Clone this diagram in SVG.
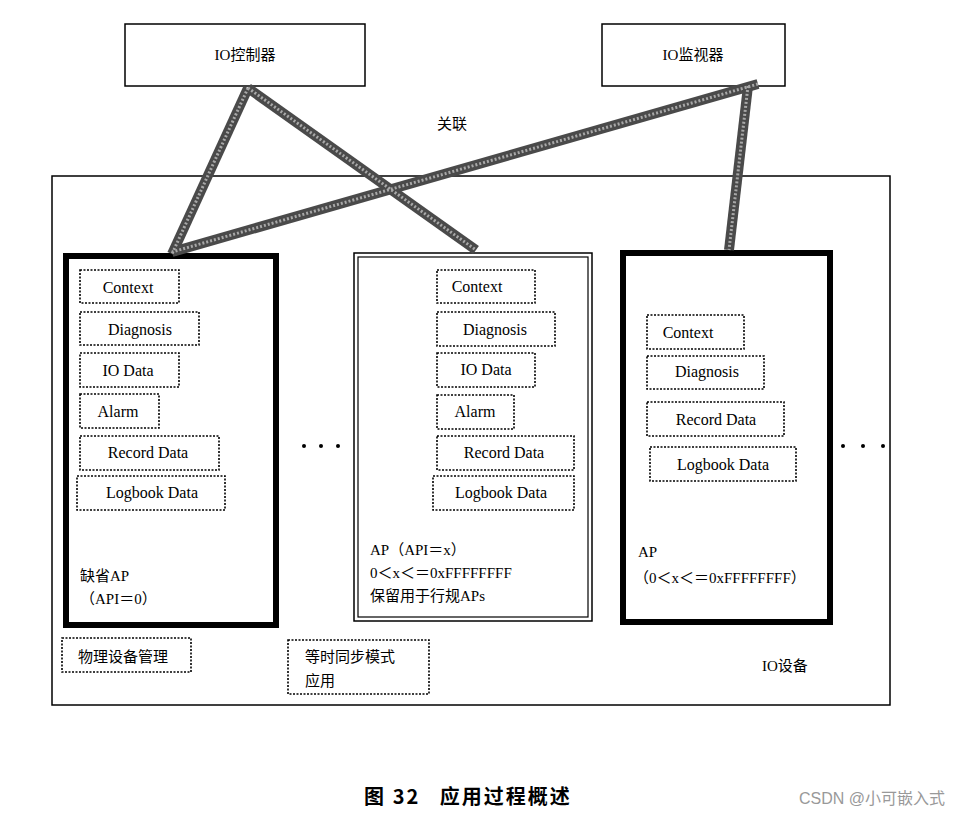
<svg xmlns="http://www.w3.org/2000/svg" width="960" height="817" viewBox="0 0 960 817">
<style>
.en{font-family:"Liberation Serif","Noto Sans CJK SC",serif;font-size:16px;fill:#000}
.cn{font-family:"Liberation Serif","Noto Sans CJK SC",sans-serif;font-size:15px;fill:#000}
.item{fill:#fff;stroke:#000;stroke-width:1.6;stroke-dasharray:2 1.5}
.box{fill:#fff;stroke:#000;stroke-width:1.5}
.thick{fill:#fff;stroke:#000;stroke-width:6}
.link{stroke:#4a4a4a;stroke-width:10;fill:none}
.linkin{stroke:#a8a8a8;stroke-width:3;stroke-dasharray:2 2;fill:none}
</style>
<rect width="960" height="817" fill="#fff"/>
<g id="io-device">
<rect x="52" y="176" width="838" height="529" class="box"/>
<text x="762" y="671" class="cn">IO设备</text>
</g>
<g id="io-controller">
<rect x="125" y="24" width="240" height="62" class="box"/>
<text x="245" y="60" class="cn" text-anchor="middle">IO控制器</text>
</g>
<g id="io-supervisor">
<rect x="602" y="24" width="183" height="62" class="box"/>
<text x="693" y="60" class="cn" text-anchor="middle">IO监视器</text>
</g>
<g id="ap-default">
<rect x="66" y="256" width="210" height="369" class="thick"/>
<rect x="80" y="270" width="99" height="33" class="item"/><text x="128" y="293" class="en" text-anchor="middle">Context</text>
<rect x="80" y="312" width="119" height="33" class="item"/><text x="140" y="335" class="en" text-anchor="middle">Diagnosis</text>
<rect x="80" y="353" width="99" height="34" class="item"/><text x="128" y="376" class="en" text-anchor="middle">IO Data</text>
<rect x="80" y="394" width="79" height="34" class="item"/><text x="118" y="417" class="en" text-anchor="middle">Alarm</text>
<rect x="80" y="436" width="139" height="34" class="item"/><text x="148" y="458" class="en" text-anchor="middle">Record Data</text>
<rect x="77" y="476" width="148" height="34" class="item"/><text x="152" y="498" class="en" text-anchor="middle">Logbook Data</text>
<text x="80" y="581" class="cn">缺省AP</text>
<text x="80" y="604" class="cn">（API＝0）</text>
</g>
<g id="ap-profile">
<rect x="354" y="253" width="238" height="368" class="box"/>
<rect x="358" y="257" width="230" height="360" fill="none" stroke="#000" stroke-width="1.2"/>
<rect x="437" y="270" width="98" height="33" class="item"/><text x="477" y="292" class="en" text-anchor="middle">Context</text>
<rect x="437" y="312" width="118" height="34" class="item"/><text x="495" y="335" class="en" text-anchor="middle">Diagnosis</text>
<rect x="437" y="353" width="98" height="34" class="item"/><text x="486" y="375" class="en" text-anchor="middle">IO Data</text>
<rect x="437" y="395" width="77" height="34" class="item"/><text x="475" y="417" class="en" text-anchor="middle">Alarm</text>
<rect x="437" y="436" width="137" height="34" class="item"/><text x="504" y="458" class="en" text-anchor="middle">Record Data</text>
<rect x="433" y="476" width="141" height="34" class="item"/><text x="501" y="498" class="en" text-anchor="middle">Logbook Data</text>
<text x="370" y="555" class="cn">AP（API＝x）</text>
<text x="370" y="578" class="cn">0＜x＜＝0xFFFFFFFF</text>
<text x="370" y="601" class="cn">保留用于行规APs</text>
</g>
<g id="ap-other">
<rect x="623" y="253" width="207" height="369" class="thick"/>
<rect x="647" y="315" width="97" height="34" class="item"/><text x="688" y="338" class="en" text-anchor="middle">Context</text>
<rect x="647" y="356" width="117" height="33" class="item"/><text x="707" y="377" class="en" text-anchor="middle">Diagnosis</text>
<rect x="647" y="402" width="137" height="34" class="item"/><text x="716" y="425" class="en" text-anchor="middle">Record Data</text>
<rect x="650" y="447" width="146" height="34" class="item"/><text x="723" y="470" class="en" text-anchor="middle">Logbook Data</text>
<text x="638" y="557" class="cn">AP</text>
<text x="634" y="583" class="cn">（0＜x＜＝0xFFFFFFFF）</text>
</g>
<g id="dots">
<circle cx="304" cy="446" r="2"/><circle cx="321" cy="446" r="2"/><circle cx="338" cy="446" r="2"/>
<circle cx="843" cy="446" r="2"/><circle cx="863" cy="446" r="2"/><circle cx="883" cy="446" r="2"/>
</g>
<g id="phys-mgmt">
<rect x="62" y="638" width="129" height="34" class="item"/>
<text x="78" y="662" class="cn">物理设备管理</text>
</g>
<g id="iso-app">
<rect x="288" y="640" width="141" height="54" class="item"/>
<text x="305" y="662" class="cn">等时同步模式</text>
<text x="305" y="686" class="cn">应用</text>
</g>
<g id="connectors">
<line x1="248" y1="88" x2="172" y2="254" class="link"/>
<line x1="248" y1="88" x2="476" y2="250" class="link"/>
<line x1="758" y1="84" x2="172" y2="252" class="link"/>
<line x1="748" y1="86" x2="729" y2="250" class="link"/>
<line x1="248" y1="88" x2="172" y2="254" class="linkin"/>
<line x1="248" y1="88" x2="476" y2="250" class="linkin"/>
<line x1="758" y1="84" x2="172" y2="252" class="linkin"/>
<line x1="748" y1="86" x2="729" y2="250" class="linkin"/>
<text x="452" y="129" class="cn" text-anchor="middle">关联</text>
</g>
<text x="468" y="804" font-family="Noto Sans CJK SC,sans-serif" font-size="20" font-weight="bold" letter-spacing="2" text-anchor="middle" xml:space="preserve">图 32   应用过程概述</text>
<text x="945" y="804" font-family="Liberation Sans,Noto Sans CJK SC,sans-serif" font-size="16" fill="#999" text-anchor="end">CSDN @小可嵌入式</text>
</svg>
